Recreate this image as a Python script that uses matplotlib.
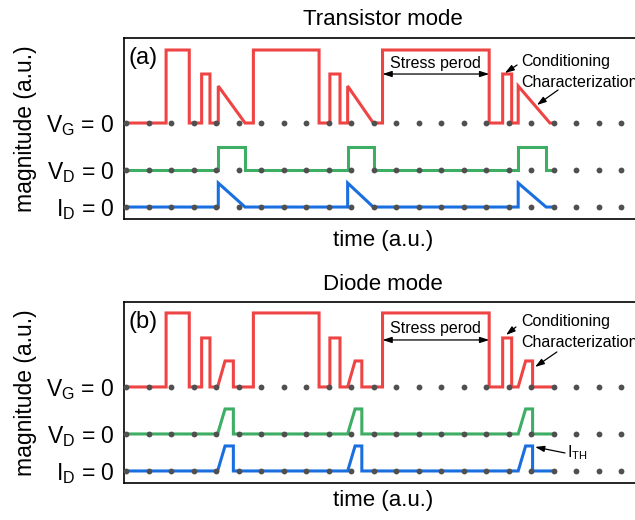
import matplotlib

matplotlib.use("Agg")
import matplotlib.pyplot as plt

plt.rcParams["font.family"] = ["Liberation Sans", "DejaVu Sans"]
plt.rcParams["mathtext.fontset"] = "custom"
plt.rcParams["mathtext.rm"] = "Liberation Sans"
plt.rcParams["mathtext.it"] = "Liberation Sans:italic"

# time axis (a.u.): grid dots sit on integer times
T_START = -0.11
T_END = 19.0
DOT_TIMES = list(range(0, 23))

# signal baselines (zero levels) in both panels
BASE_VG = 9.6
BASE_VD = 4.9
BASE_ID = 1.2
LEVEL_LABELS = [r"$\mathregular{V_G}$ = 0", r"$\mathregular{V_D}$ = 0", r"$\mathregular{I_D}$ = 0"]

# gate stress and conditioning pulses (shared by both modes)
STRESS_ON = [1.76, 5.64, 11.38]
STRESS_OFF = [2.79, 8.56, 16.12]
COND_ON = [3.34, 9.04, 16.72]
COND_OFF = [3.71, 9.49, 17.12]

# transistor mode: ramped characterization of the gate
TR_CHAR_ON = [4.08, 9.83, 17.41]
TR_CHAR_OFF = [5.27, 10.97, 18.82]
TR_VD_OFF = [5.27, 11.02, 18.65]
TR_ID_OFF = [5.27, 10.97, 18.65]
TR_AMP_STRESS = 7.3
TR_AMP_COND = 4.9
TR_AMP_CHAR = 3.7
TR_AMP_VD = 2.3
TR_AMP_ID = 2.4

# diode mode: short trapezoid characterization sweep
DI_CHAR_ON = [4.05, 9.83, 17.41]
DI_CHAR_PEAK = [4.38, 10.16, 17.74]
DI_CHAR_OFF = [4.75, 10.46, 18.05]
DI_AMP_STRESS = 7.4
DI_AMP_COND = 4.9
DI_AMP_CHAR = 2.6
DI_AMP_VD = 2.5
DI_AMP_ID = 2.5

RED = "#ee4444"
GREEN = "#3dae64"
BLUE = "#1a6fe0"
DOT = "#505050"


def waveform(base, pulses):
    # pulses: (start, top_start, top_end, stop, amplitude)
    t = [T_START]
    v = [base]
    for on, up, down, off, amp in sorted(pulses):
        t += [on, up, down, off]
        v += [base, base + amp, base + amp, base]
    t.append(T_END)
    v.append(base)
    return t, v


def rects(ons, offs, amp):
    return [(a, a, b, b, amp) for a, b in zip(ons, offs)]


def draw_panel(ax, vg, vd, i_d, tag):
    for (t, v), color in zip((vg, vd, i_d), (RED, GREEN, BLUE)):
        ax.plot(t, v, color=color, lw=2.2, solid_joinstyle="miter", zorder=2)
    for base in (BASE_VG, BASE_VD, BASE_ID):
        ax.plot(DOT_TIMES, [base] * len(DOT_TIMES), ls="none", marker="o",
                ms=4.2, color=DOT, mec="none", zorder=3, clip_on=False)
    ax.set_xlim(T_START, 22.87)
    ax.set_ylim(0, 18.1)
    ax.set_xticks([])
    ax.set_yticks([BASE_VG, BASE_VD, BASE_ID])
    ax.set_yticklabels(LEVEL_LABELS, fontsize=16.5)
    ax.tick_params(axis="y", length=0, pad=7)
    for sp in ax.spines.values():
        sp.set_linewidth(1.2)
    ax.text(0.008, 0.89, tag, transform=ax.transAxes, fontsize=17,
            ha="left", va="center")


def arrow(ax, xy, xytext, style="-|>"):
    ax.annotate("", xy=xy, xytext=xytext,
                arrowprops=dict(arrowstyle=style + ",head_length=0.55,head_width=0.18",
                                color="black", lw=0.9, shrinkA=0, shrinkB=0))


fig = plt.figure(figsize=(6.35, 5.2), dpi=100)
ax_a = fig.add_axes([0.1953, 0.5788, 0.8142, 0.3481])
ax_b = fig.add_axes([0.1953, 0.0712, 0.8142, 0.3481])

# (a) transistor mode
vg_a = waveform(BASE_VG, rects(STRESS_ON, STRESS_OFF, TR_AMP_STRESS)
                + rects(COND_ON, COND_OFF, TR_AMP_COND)
                + [(a, a, a, b, TR_AMP_CHAR) for a, b in zip(TR_CHAR_ON, TR_CHAR_OFF)])
vd_a = waveform(BASE_VD, rects(TR_CHAR_ON, TR_VD_OFF, TR_AMP_VD))
id_a = waveform(BASE_ID, [(a, a, a, b, TR_AMP_ID) for a, b in zip(TR_CHAR_ON, TR_ID_OFF)])
draw_panel(ax_a, vg_a, vd_a, id_a, "(a)")

# (b) diode mode
vg_b = waveform(BASE_VG, rects(STRESS_ON, STRESS_OFF, DI_AMP_STRESS)
                + rects(COND_ON, COND_OFF, DI_AMP_COND)
                + [(a, p, b, b, DI_AMP_CHAR) for a, p, b in zip(DI_CHAR_ON, DI_CHAR_PEAK, DI_CHAR_OFF)])
vd_b = waveform(BASE_VD, [(a, p, b, b, DI_AMP_VD) for a, p, b in zip(DI_CHAR_ON, DI_CHAR_PEAK, DI_CHAR_OFF)])
id_b = waveform(BASE_ID, [(a, p, b, b, DI_AMP_ID) for a, p, b in zip(DI_CHAR_ON, DI_CHAR_PEAK, DI_CHAR_OFF)])
draw_panel(ax_b, vg_b, vd_b, id_b, "(b)")

# annotations on the last stress / conditioning / characterization cycle
ax_a.text(13.71, 15.6, "Stress perod", fontsize=11.5, ha="center", va="center")
arrow(ax_a, (STRESS_ON[2], 14.5), (STRESS_OFF[2], 14.5), style="<|-|>")
ax_a.text(17.53, 15.8, "Conditioning", fontsize=11.5, ha="left", va="center")
arrow(ax_a, (16.82, 14.6), (17.36, 15.4))
ax_a.text(17.53, 13.7, "Characterization", fontsize=11.5, ha="left", va="center")
arrow(ax_a, (18.24, 11.4), (19.18, 12.9))

ax_b.text(13.71, 15.4, "Stress perod", fontsize=11.5, ha="center", va="center")
arrow(ax_b, (STRESS_ON[2], 14.3), (STRESS_OFF[2], 14.3), style="<|-|>")
ax_b.text(17.53, 16.1, "Conditioning", fontsize=11.5, ha="left", va="center")
arrow(ax_b, (16.87, 14.8), (17.31, 15.6))
ax_b.text(17.53, 14.0, "Characterization", fontsize=11.5, ha="left", va="center")
arrow(ax_b, (18.16, 11.6), (19.13, 13.1))
ax_b.text(19.6, 3.0, r"$\mathregular{I_{TH}}$", fontsize=11.5, ha="left", va="center")
arrow(ax_b, (18.16, 3.6), (19.49, 3.0))

# titles and axis labels
fig.text(0.603, 0.963, "Transistor mode", fontsize=16, ha="center", va="center")
fig.text(0.603, 0.452, "Diode mode", fontsize=16, ha="center", va="center")
fig.text(0.603, 0.538, "time (a.u.)", fontsize=16, ha="center", va="center")
fig.text(0.603, 0.038, "time (a.u.)", fontsize=16, ha="center", va="center")
fig.text(0.040, 0.753, "magnitude (a.u.)", fontsize=16.5, rotation=90,
         ha="center", va="center")
fig.text(0.040, 0.245, "magnitude (a.u.)", fontsize=16.5, rotation=90,
         ha="center", va="center")

fig.savefig("out.png", dpi=100)
